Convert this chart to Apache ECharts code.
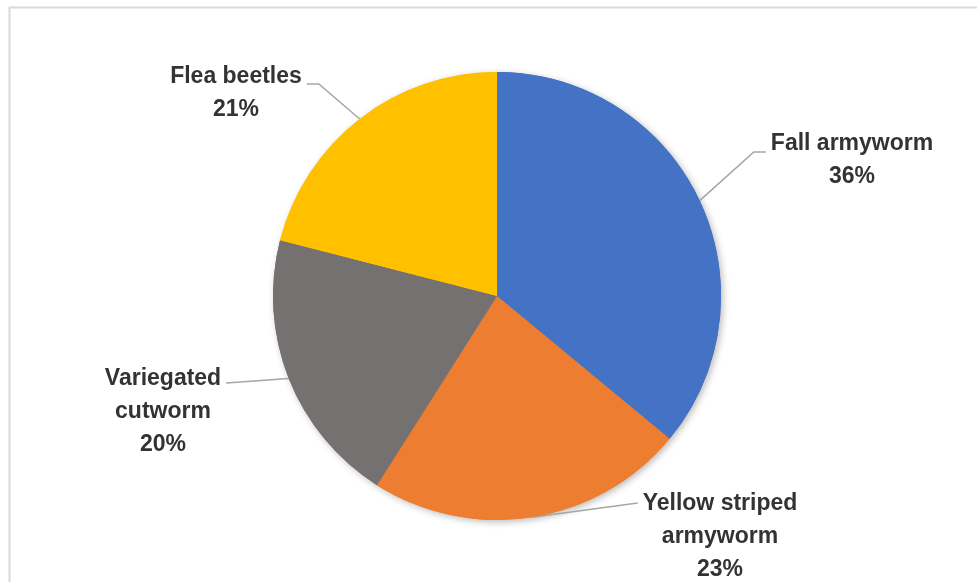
<!DOCTYPE html>
<html>
<head>
<meta charset="utf-8">
<title>Pest incidence</title>
<script src="https://cdn.jsdelivr.net/npm/echarts@6/dist/echarts.min.js"></script>
<style>
  html, body { margin: 0; padding: 0; background: #ffffff; }
  #chart { width: 977px; height: 582px; }
</style>
</head>
<body>
<div id="chart"></div>
<script>
// Pest species and their share of the recorded infestations (%)
const pests = ['Fall armyworm', 'Yellow striped armyworm', 'Variegated cutworm', 'Flea beetles'];
const shares = [36, 23, 20, 21];
const sliceColors = ['#4472C4', '#ED7D31', '#767171', '#FFC000'];

// Where each callout sits: centre x, top y of the text block, which side
// the leader line enters from, its vertical offset into the block and the
// length of the horizontal elbow next to the text.
const calloutSpots = [
  { x: 852, y: 127, side: 'left',  dy: 25, elbow: 12 },
  { x: 720, y: 487, side: 'left',  dy: 16, elbow: 0 },
  { x: 163, y: 362, side: 'right', dy: 21, elbow: 0 },
  { x: 236, y: 60,  side: 'right', dy: 24, elbow: 12 }
];

const chart = echarts.init(document.getElementById('chart'), null, { renderer: 'canvas' });

const pieData = pests.map((name, i) => ({
  name: name,
  value: shares[i],
  itemStyle: { color: sliceColors[i] }
}));

// Long names wrap onto two lines at the last space.
function wrapName(name) {
  if (name.length <= 14) return name;
  const k = name.lastIndexOf(' ');
  return name.slice(0, k) + '\n' + name.slice(k + 1);
}

const CENTER = [497, 296];
const RADIUS = 224;

function calloutLayout(params) {
  const spot = calloutSpots[params.dataIndex];
  const w = params.labelRect.width;
  const gap = 5;
  const pts = params.labelLinePoints;
  let anchor;
  if (pts && pts.length) {
    anchor = pts[0];
  } else {
    const lay = chart.getModel().getSeriesByIndex(1).getData().getItemLayout(params.dataIndex);
    const mid = (lay.startAngle + lay.endAngle) / 2;
    anchor = [lay.cx + lay.r * Math.cos(mid), lay.cy + lay.r * Math.sin(mid)];
  }
  const endX = spot.side === 'left' ? spot.x - w / 2 - gap : spot.x + w / 2 + gap;
  const endY = spot.y + spot.dy;
  const bendX = spot.side === 'left' ? endX - spot.elbow : endX + spot.elbow;
  return {
    x: spot.x,
    y: spot.y,
    align: 'center',
    verticalAlign: 'top',
    labelLinePoints: [anchor, [bendX, endY], [endX, endY]]
  };
}

const option = {
  backgroundColor: '#ffffff',
  animation: false,
  graphic: [{
    type: 'rect',
    left: 7,
    top: 5,
    shape: { x: 0, y: 0, width: 1000, height: 600 },
    style: { fill: 'none', stroke: '#d9d9d9', lineWidth: 2 },
    silent: true,
    z: -10
  }],
  series: [
    {
      // soft drop shadow beneath the pie
      type: 'pie',
      center: CENTER,
      radius: RADIUS,
      startAngle: 90,
      clockwise: true,
      silent: true,
      z: 1,
      label: { show: false },
      labelLine: { show: false },
      itemStyle: {
        borderWidth: 0,
        shadowBlur: 7,
        shadowColor: 'rgba(0,0,0,0.28)',
        shadowOffsetX: 2,
        shadowOffsetY: 2
      },
      emphasis: { disabled: true },
      data: pieData
    },
    {
      type: 'pie',
      center: CENTER,
      radius: RADIUS,
      startAngle: 90,
      clockwise: true,
      z: 2,
      avoidLabelOverlap: false,
      itemStyle: { borderWidth: 0 },
      emphasis: { disabled: true },
      label: {
        show: true,
        position: 'outside',
        formatter: (p) => wrapName(p.name) + '\n' + p.percent + '%',
        fontFamily: '"Liberation Sans", Arial, sans-serif',
        fontWeight: 'bold',
        fontSize: 23,
        lineHeight: 33,
        color: '#333333',
        align: 'center'
      },
      labelLine: {
        show: true,
        length: 20,
        length2: 12,
        lineStyle: { color: '#A6A6A6', width: 1.5 }
      },
      labelLayout: calloutLayout,
      data: pieData
    }
  ]
};

chart.setOption(option);
</script>
</body>
</html>
